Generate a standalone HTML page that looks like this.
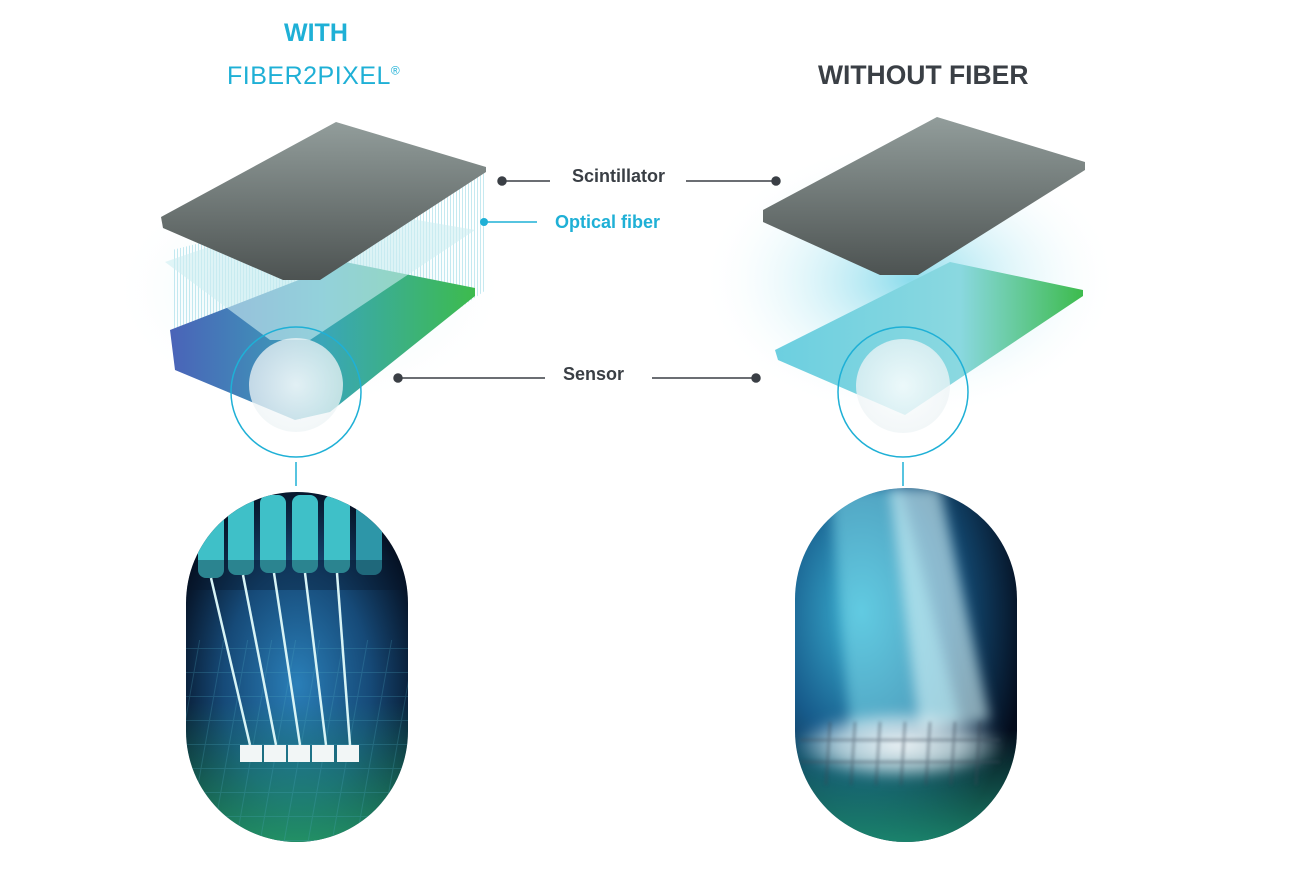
<!DOCTYPE html>
<html><head><meta charset="utf-8"><style>
html,body{margin:0;padding:0;background:#fff;}
body{width:1291px;height:880px;position:relative;overflow:hidden;font-family:"Liberation Sans",sans-serif;}
.t{position:absolute;white-space:nowrap;}
</style></head><body>
<svg width="1291" height="880" style="position:absolute;left:0;top:0">
<defs>
<linearGradient id="plate" x1="0" y1="0" x2="0" y2="1"><stop offset="0" stop-color="#929d9b"/><stop offset="1" stop-color="#4d5352"/></linearGradient>
<linearGradient id="sensL" x1="0" y1="0" x2="1" y2="0"><stop offset="0" stop-color="#4a63b8"/><stop offset="0.5" stop-color="#3aa6b8"/><stop offset="1" stop-color="#3dbb4d"/></linearGradient>
<linearGradient id="sensR" x1="0" y1="0" x2="1" y2="0"><stop offset="0" stop-color="#6ccfe0"/><stop offset="0.6" stop-color="#8ad8e0"/><stop offset="1" stop-color="#3dbb4d"/></linearGradient>
<radialGradient id="glowL" cx="0.5" cy="0.5" r="0.5"><stop offset="0" stop-color="#bfeaf0" stop-opacity="0.8"/><stop offset="1" stop-color="#fff" stop-opacity="0"/></radialGradient>
<radialGradient id="glowR" cx="0.5" cy="0.5" r="0.5"><stop offset="0" stop-color="#7fd8ea" stop-opacity="0.9"/><stop offset="1" stop-color="#fff" stop-opacity="0"/></radialGradient>
<radialGradient id="capL" cx="0.5" cy="0.55" r="0.6"><stop offset="0" stop-color="#2a7fb8"/><stop offset="0.55" stop-color="#164a78"/><stop offset="1" stop-color="#040c1c"/></radialGradient>
<linearGradient id="capLg" x1="0" y1="0" x2="0" y2="1"><stop offset="0.6" stop-color="#1fa27a" stop-opacity="0"/><stop offset="1" stop-color="#27a86a" stop-opacity="0.8"/></linearGradient>
<linearGradient id="capRg" x1="0" y1="0" x2="0" y2="1"><stop offset="0" stop-color="#1f9c7a" stop-opacity="0"/><stop offset="1" stop-color="#1f9c7a" stop-opacity="0.8"/></linearGradient>
<radialGradient id="capR" cx="0.3" cy="0.35" r="0.75"><stop offset="0" stop-color="#3cb4d4"/><stop offset="0.5" stop-color="#175c8c"/><stop offset="1" stop-color="#040c1c"/></radialGradient>
<radialGradient id="white" cx="0.5" cy="0.5" r="0.5"><stop offset="0" stop-color="#fff" stop-opacity="0.85"/><stop offset="1" stop-color="#eef4f6" stop-opacity="0.75"/></radialGradient>
<radialGradient id="wblob" cx="0.5" cy="0.5" r="0.5"><stop offset="0" stop-color="#fff" stop-opacity="0.95"/><stop offset="0.6" stop-color="#e8f4f6" stop-opacity="0.7"/><stop offset="1" stop-color="#fff" stop-opacity="0"/></radialGradient>
<pattern id="grid" width="24" height="24" patternUnits="userSpaceOnUse"><path d="M0 0H24M0 0V24" stroke="#4aa6c0" stroke-opacity="0.25" stroke-width="2" fill="none"/></pattern>
<pattern id="vl" width="3" height="10" patternUnits="userSpaceOnUse"><rect width="1" height="10" fill="#9fdbe6" fill-opacity="0.6"/></pattern>
<clipPath id="cL"><rect x="186" y="492" width="222" height="350" rx="111"/></clipPath>
<clipPath id="cR"><rect x="795" y="488" width="222" height="354" rx="111"/></clipPath>
<filter id="blur"><feGaussianBlur stdDeviation="6"/></filter>
<filter id="blur2"><feGaussianBlur stdDeviation="1.5"/></filter>
</defs>

<ellipse cx="310" cy="290" rx="200" ry="120" fill="url(#glowL)"/>
<polygon points="172,330 172,250 486,172 486,290 300,420" fill="url(#vl)"/>
<polygon points="170,330 345,262 475,288 475,296 330,412 295,420 175,370" fill="url(#sensL)"/>
<polygon points="165,262 330,205 475,230 310,340 270,340" fill="#cfeef2" opacity="0.6"/>
<polygon points="161,217 336,122 486,167 486,172 320,280 283,280 163,228" fill="url(#plate)"/>
<circle cx="296" cy="385" r="47" fill="url(#white)"/>
<circle cx="296" cy="392" r="65" fill="none" stroke="#1fb0d6" stroke-width="1.5"/>
<line x1="296" y1="462" x2="296" y2="486" stroke="#1fb0d6" stroke-width="1.5"/>

<ellipse cx="910" cy="280" rx="210" ry="140" fill="url(#glowR)"/>
<polygon points="775,350 950,262 1083,290 1083,296 905,415 778,360" fill="url(#sensR)"/>
<polygon points="763,210 937,117 1085,162 1085,170 918,275 880,275 763,222" fill="url(#plate)"/>
<circle cx="903" cy="386" r="47" fill="url(#white)"/>
<circle cx="903" cy="392" r="65" fill="none" stroke="#1fb0d6" stroke-width="1.5"/>
<line x1="903" y1="462" x2="903" y2="486" stroke="#1fb0d6" stroke-width="1.5"/>

<g stroke="#3a3f45" stroke-width="1.5" fill="#3a3f45">
<line x1="502" y1="181" x2="550" y2="181"/><circle cx="502" cy="181" r="4"/>
<line x1="686" y1="181" x2="776" y2="181"/><circle cx="776" cy="181" r="4"/>
<line x1="398" y1="378" x2="545" y2="378"/><circle cx="398" cy="378" r="4"/>
<line x1="652" y1="378" x2="756" y2="378"/><circle cx="756" cy="378" r="4"/>
</g>
<line x1="484" y1="222" x2="537" y2="222" stroke="#1fb0d6" stroke-width="1.5"/><circle cx="484" cy="222" r="4" fill="#1fb0d6"/>

<g clip-path="url(#cL)">
<rect x="186" y="492" width="222" height="350" fill="url(#capL)"/>
<rect x="186" y="492" width="222" height="350" fill="url(#capLg)"/>
<rect x="150" y="640" width="300" height="220" fill="url(#grid)" transform="skewX(-10) translate(120 0)"/>
<g fill="#3fc0c8">
<rect x="198" y="500" width="26" height="78" rx="8"/><rect x="228" y="495" width="26" height="80" rx="8"/><rect x="260" y="495" width="26" height="78" rx="8"/><rect x="292" y="495" width="26" height="78" rx="8"/><rect x="324" y="495" width="26" height="78" rx="8"/><rect x="356" y="500" width="26" height="75" rx="8" fill="#2d96a8"/>
</g>
<rect x="186" y="560" width="222" height="30" fill="#061428" opacity="0.35"/>
<g stroke="#d8f4f6" stroke-width="2.5">
<line x1="211" y1="578" x2="250" y2="745"/><line x1="243" y1="575" x2="276" y2="745"/><line x1="274" y1="573" x2="300" y2="745"/><line x1="305" y1="573" x2="326" y2="745"/><line x1="337" y1="573" x2="350" y2="745"/>
</g>
<g fill="#f2f6f6"><rect x="240" y="745" width="22" height="17"/><rect x="264" y="745" width="22" height="17"/><rect x="288" y="745" width="22" height="17"/><rect x="312" y="745" width="22" height="17"/><rect x="337" y="745" width="22" height="17"/></g>
</g>

<g clip-path="url(#cR)">
<rect x="795" y="488" width="222" height="354" fill="url(#capR)"/>
<rect x="795" y="730" width="222" height="112" fill="url(#capRg)"/>
<g filter="url(#blur)">
<polygon points="830,488 900,488 960,720 850,730" fill="#7fdcec" opacity="0.55"/>
<polygon points="890,488 940,488 990,720 920,730" fill="#d8f6fa" opacity="0.6"/>
<ellipse cx="900" cy="745" rx="105" ry="35" fill="url(#wblob)"/>
</g>
<g stroke="#3a4a58" stroke-width="2" opacity="0.55" filter="url(#blur2)">
<line x1="800" y1="740" x2="1000" y2="740"/><line x1="800" y1="762" x2="1000" y2="762"/>
<line x1="830" y1="722" x2="826" y2="785"/><line x1="855" y1="722" x2="851" y2="785"/><line x1="880" y1="722" x2="876" y2="785"/><line x1="905" y1="722" x2="901" y2="785"/><line x1="930" y1="722" x2="926" y2="785"/><line x1="955" y1="722" x2="951" y2="785"/><line x1="980" y1="722" x2="976" y2="785"/>
</g>
</g>
</svg>

<div class="t" style="left:284px;top:19px;font-size:25px;font-weight:bold;color:#1fb0d6;">WITH</div>
<div class="t" style="left:227px;top:62px;font-size:25px;color:#1fb0d6;letter-spacing:0.5px">FIBER2PIXEL<sup style="font-size:12px">®</sup></div>
<div class="t" style="left:818px;top:60px;font-size:26.5px;font-weight:bold;color:#3a3f45;">WITHOUT FIBER</div>
<div class="t" style="left:572px;top:166px;font-size:18px;font-weight:bold;color:#3a3f45;">Scintillator</div>
<div class="t" style="left:555px;top:212px;font-size:18px;font-weight:bold;color:#1fb0d6;">Optical fiber</div>
<div class="t" style="left:563px;top:364px;font-size:18px;font-weight:bold;color:#3a3f45;">Sensor</div>
</body></html>
